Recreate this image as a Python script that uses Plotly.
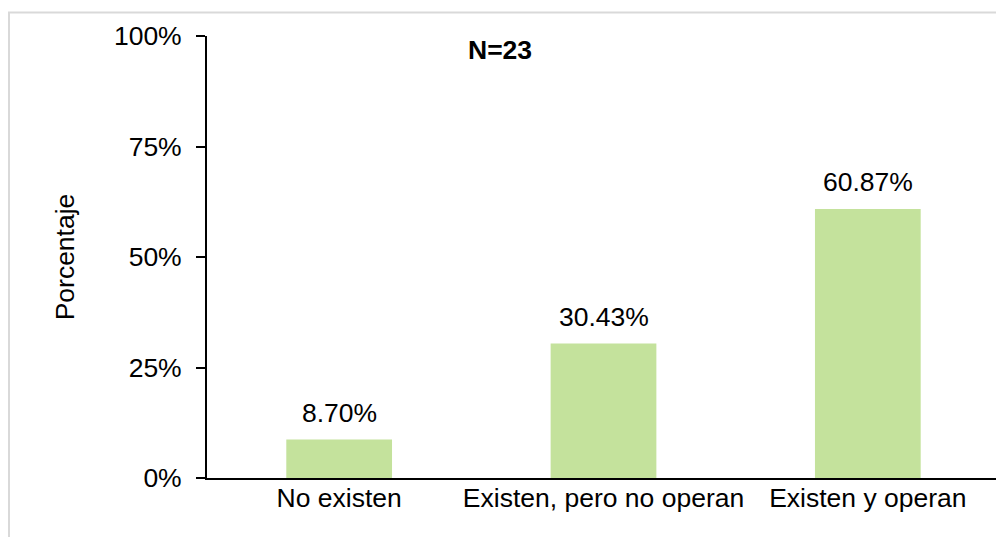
import plotly.graph_objects as go

categories = ["No existen", "Existen, pero no operan", "Existen y operan"]
values = [8.70, 30.43, 60.87]
labels = ["8.70%", "30.43%", "60.87%"]
y_ticks = [0, 25, 50, 75, 100]
y_ticktext = ["0%", "25%", "50%", "75%", "100%"]

OFF = 8  # page body margin
W, H = 1004, 537
L, T = 207 - OFF, 36 - OFF
R = W - (1000 - OFF)
B = H - (478 - OFF)
pw, ph = W - L - R, H - T - B

FONT = "Arial, 'Liberation Sans', sans-serif"
FS = 26.5

fig = go.Figure()
fig.add_trace(go.Bar(
    x=categories, y=values, marker=dict(color="#C4E29C", line=dict(width=0)),
    width=0.4, hoverinfo="skip",
))

for c, v, t in zip(categories, values, labels):
    fig.add_annotation(x=c, y=v, text=t, showarrow=False, yanchor="bottom",
                       yshift=10, font=dict(size=FS, color="#000000", family=FONT))

fig.add_annotation(xref="paper", yref="paper", x=(500 - OFF - L) / pw,
                   y=((478 - OFF) - (50 - OFF)) / ph,
                   text="<b>N=23</b>", showarrow=False, xanchor="center", yanchor="middle",
                   font=dict(size=FS, color="#000000", family=FONT))

# outer chart border (left edge kept just inside the figure)
fig.add_shape(type="rect", xref="paper", yref="paper",
              x0=(1 - L) / pw, x1=(1012 - OFF - L) / pw,
              y0=((478 - OFF) - (545 - OFF)) / ph, y1=((478 - OFF) - (12.5 - OFF)) / ph,
              line=dict(color="#D9D9D9", width=2), fillcolor="rgba(0,0,0,0)", layer="below")

fig.update_layout(
    width=W, height=H,
    margin=dict(l=L, r=R, t=T, b=B, pad=0),
    paper_bgcolor="white", plot_bgcolor="white",
    showlegend=False, bargap=0.6,
    font=dict(family=FONT, size=FS, color="#000000"),
    xaxis=dict(showline=True, linecolor="#000000", linewidth=2, ticks="",
               showgrid=False, zeroline=False, tickfont=dict(size=FS),
               ticklabelstandoff=-5),
    yaxis=dict(range=[0, 100], tickvals=y_ticks, ticktext=y_ticktext,
               showline=True, linecolor="#000000", linewidth=2,
               ticks="outside", ticklen=9, tickwidth=2, tickcolor="#000000",
               showgrid=False, zeroline=False, ticklabelstandoff=9,
               title=dict(text="Porcentaje", standoff=32, font=dict(size=FS)),
               tickfont=dict(size=FS)),
)

fig.write_html("out.html")
